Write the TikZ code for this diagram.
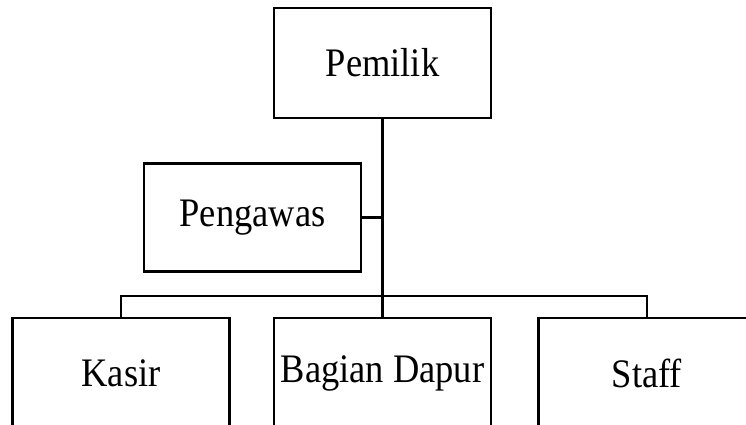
\documentclass[tikz,border=0pt]{standalone}
\usepackage{fontspec}
\setmainfont[FakeStretch=0.9]{Liberation Serif}
\usepackage{tikz}

\tikzset{
	jabatan/.style={draw, rectangle, inner sep=0pt, minimum width=217pt, minimum height=110pt,
		font=\fontsize{40.5}{43}\selectfont}
}

\begin{document}
\begin{tikzpicture}[x=1pt, y=-1pt, line width=2.5pt]
	\useasboundingbox (0,0) rectangle (746,425);
	\clip (0,0) rectangle (746,425);
	% kotak jabatan
	\node[jabatan] (pemilik) at (382.5,63) {Pemilik};
	\node[jabatan, minimum height=108pt] (pengawas) at (252.5,217.5) {Pengawas};
	\node[jabatan] (kasir) at (121,373) {Kasir};
	\node[jabatan] (dapur) at (382.5,373) {Bagian Dapur};
	\node[jabatan] (staff) at (647,373) {Staff};
	% garis
	\coordinate (bus) at (382.5,296);
	\draw (pemilik.south) -- (dapur.north);
	\draw (pengawas.east) -- (pengawas.east -| pemilik.south);
	\draw (kasir.north) -- (kasir.north |- bus) -- (staff.north |- bus) -- (staff.north);
\end{tikzpicture}
\end{document}
